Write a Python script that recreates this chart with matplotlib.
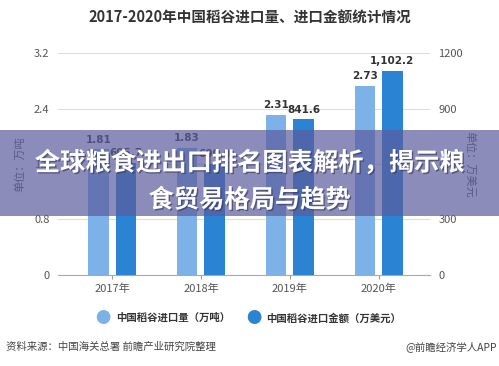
import numpy as np
import matplotlib
matplotlib.use('Agg')
import matplotlib.pyplot as plt
from matplotlib.patches import Rectangle
import matplotlib.patheffects as pe

plt.rcParams['font.family'] = ['Noto Sans CJK SC', 'DejaVu Sans']

## data
years = ['2017年', '2018年', '2019年', '2020年']
volume = [1.81, 1.83, 2.31, 2.73]          # 万吨
amount = [605.7, 600.0, 841.6, 1102.2]     # 万美元
left_ticks = [0, 0.8, 1.6, 2.4, 3.2]
right_ticks = [0, 300, 600, 900, 1200]

c_light = '#7db2e8'
c_dark = '#2b83d3'
c_text = '#555555'

fig = plt.figure(figsize=(4.99, 3.66), dpi=100)
ax = fig.add_axes([0.116, 0.249, 0.746, 0.606])
ax2 = ax.twinx()

x = np.arange(len(years))
w = 0.23
ax.bar(x - 0.155, volume, width=w, color=c_light, zorder=3)
ax2.bar(x + 0.155, amount, width=w, color=c_dark, zorder=3)

for xi, v in zip(x, volume):
    ax.text(xi - 0.155, v + 0.07, '{:.2f}'.format(v), ha='center', va='bottom',
            fontsize=7.5, fontweight='bold', color='#333333', family='DejaVu Sans')
for xi, v in zip(x, amount):
    ax2.text(xi + 0.155, v + 26, '{:,.1f}'.format(v), ha='center', va='bottom',
             fontsize=7.5, fontweight='bold', color='#333333', family='DejaVu Sans')

ax.set_xlim(-0.61, 3.58)
ax.set_ylim(0, 3.2)
ax2.set_ylim(0, 1200)
ax.set_yticks(left_ticks)
ax.set_yticklabels([('%g' % t) for t in left_ticks])
ax2.set_yticks(right_ticks)
ax.set_xticks(x)
ax.set_xticklabels(years)

for a in (ax, ax2):
    for s in a.spines.values():
        s.set_visible(False)
    a.tick_params(axis='y', length=0, labelsize=8, labelcolor=c_text, pad=6)
ax.tick_params(axis='x', length=3, color='#999999', labelsize=8, labelcolor=c_text, pad=3)
ax.spines['bottom'].set_visible(True)
ax.spines['bottom'].set_color('#aaaaaa')
ax.yaxis.grid(True, color='#dddddd', linewidth=0.8, zorder=0)
ax.set_axisbelow(True)

ax.set_ylabel('单位：万吨', fontsize=8, color=c_text, labelpad=6)
ax2.set_ylabel('单位：万美元', fontsize=8, color=c_text, rotation=-90, labelpad=9)

## title
fig.text(0.5, 0.953, '2017-2020年中国稻谷进口量、进口金额统计情况', ha='center', va='center',
         fontsize=10.5, fontweight='bold', color='#333333')

## legend
fig.text(0.207, 0.131, '●', ha='center', va='center', fontsize=11, color=c_light)
fig.text(0.232, 0.131, '中国稻谷进口量（万吨）', ha='left', va='center', fontsize=7.5,
         fontweight='bold', color='#333333')
fig.text(0.508, 0.131, '●', ha='center', va='center', fontsize=11, color=c_dark)
fig.text(0.533, 0.131, '中国稻谷进口金额（万美元）', ha='left', va='center', fontsize=7.5,
         fontweight='bold', color='#333333')

## source
fig.text(0.012, 0.052, '资料来源：中国海关总署 前瞻产业研究院整理', ha='left', va='center',
         fontsize=7.5, color='#444444')
fig.text(0.996, 0.052, '@前瞻经济学人APP', ha='right', va='center',
         fontsize=7.5, color='#444444')

## overlay banner
fig.patches.append(Rectangle((0, 1 - 216 / 366.), 1, 86 / 366., transform=fig.transFigure,
                             facecolor='#5c5c9e', alpha=0.7, edgecolor='none', zorder=10))
shadow = [pe.withSimplePatchShadow(offset=(1, -1), shadow_rgbFace='#333355', alpha=0.6)]
fig.text(0.5, 1 - 163 / 366., '全球粮食进出口排名图表解析，揭示粮', ha='center', va='center',
         fontsize=18.2, fontweight='bold', color='white', zorder=11, path_effects=shadow)
fig.text(0.5, 1 - 200 / 366., '食贸易格局与趋势', ha='center', va='center',
         fontsize=18.2, fontweight='bold', color='white', zorder=11, path_effects=shadow)

plt.savefig('out.png', dpi=100)
